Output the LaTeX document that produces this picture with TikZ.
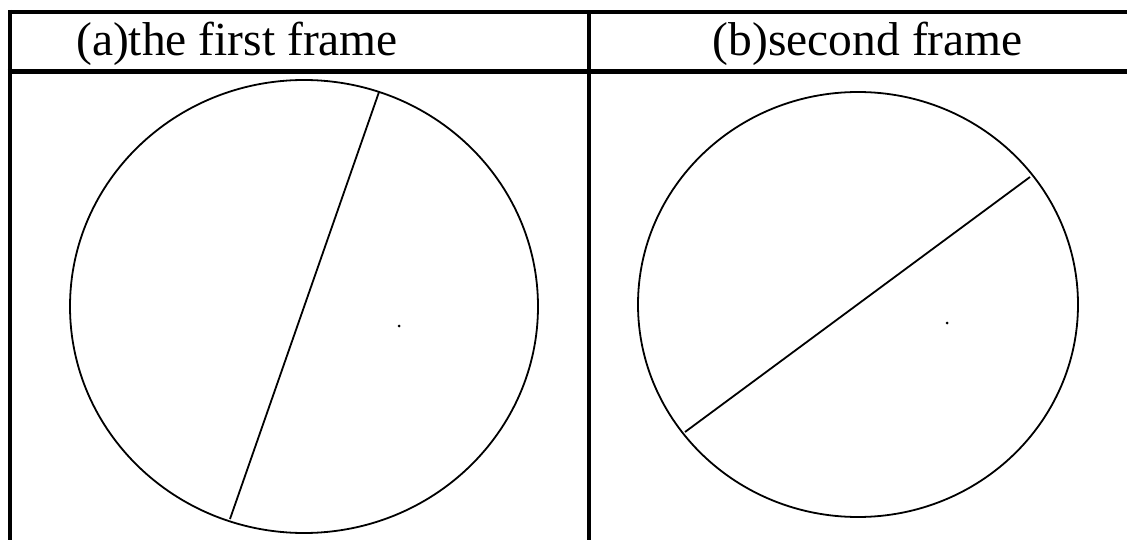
\documentclass[tikz,border=0pt]{standalone}
\usepackage{fontspec}
\setmainfont{Liberation Serif}
\begin{document}
\begin{tikzpicture}[x=1pt,y=-1pt,
  frameline/.style={line width=4pt,black},
  ring/.style={line width=1.8pt,black},
  chord/.style={line width=1.8pt,black},
  head/.style={inner sep=0pt,font=\fontsize{47.5}{56}\selectfont}]
\useasboundingbox (0,0) rectangle (1127,540);
\fill[white] (0,0) rectangle (1127,540);
% table lines
\draw[frameline] (9.7,12) -- (1130,12);
\draw[line width=5pt] (7.7,71.5) -- (1130,71.5);
\draw[frameline] (9.7,10) -- (9.7,545);
\draw[frameline] (589,12) -- (589,545);
% headers
\node[head,anchor=base west] (ha) at (76,56) {(a)the first frame};
\node[head,anchor=base east] (hb) at (1023,56) {(b)second frame};
% left circle
\draw[ring] (304,306.5) ellipse [x radius=234, y radius=226.5];
\coordinate (a1) at (379,92);
\coordinate (a2) at (230,519);
\draw[chord] (a1) -- (a2);
\fill (399,326) circle (1.5);
% right circle
\draw[ring] (858,304.5) ellipse [x radius=220, y radius=212.5];
\coordinate (b1) at (1030,177);
\coordinate (b2) at (685,432);
\draw[chord] (b1) -- (b2);
\fill (947,323) circle (1.5);
\end{tikzpicture}
\end{document}
